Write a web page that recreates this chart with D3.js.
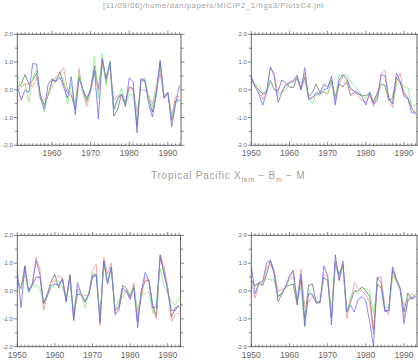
<!DOCTYPE html>
<html><head><meta charset="utf-8">
<script src="https://cdn.jsdelivr.net/npm/d3@7"></script>
<style>html,body{margin:0;padding:0;background:#fff}svg{display:block}</style>
</head><body><svg id="c" width="418" height="360"></svg>
<script>
// ---------- data ----------
const fileTitle = "[11/09/06]/home/dan/papers/MIC/P2_1/figs3/PlotsC4.jnl";
const yTicks = [-2, -1, 0, 1, 2];
const yTickLabels = ["-2.0", "-1.0", "0.0", "1.0", "2.0"];
const xTickYears = [1950, 1960, 1970, 1980, 1990];
const yearsTL = d3.range(1951, 1994); // 1951..1993
const yearsAll = d3.range(1950, 1994); // 1950..1993

// top-left (1951-1993)
const tlBlack = [0.1,0.2,0.55,0.2,0.35,0.6,-0.2,-0.55,-0.2,0.35,0.3,0.65,0.2,-0.1,-0.2,-0.7,0.5,0.0,-0.4,0.05,0.85,0.0,1.1,0.3,0.95,-0.95,-0.7,-0.15,-0.45,0.1,0.05,-1.3,0.3,0.35,-0.3,-0.8,-0.1,1.0,-0.3,-0.1,-1.1,-0.4,-0.35];
const tlRed   = [-0.05,0.1,0.2,0.2,0.1,0.45,-0.35,-0.35,-0.2,0.25,0.45,0.6,0.8,0.0,-0.1,-0.55,0.77,-0.1,-0.6,-0.1,0.6,0.0,0.9,0.5,0.8,-0.4,-0.2,-0.35,-0.5,0.1,0.0,-0.8,0.0,0.0,-0.2,-0.5,0.0,0.6,-0.3,-0.1,-0.9,-0.25,-0.25];
const tlGreen = [0.53,0.1,0.25,-0.45,0.45,0.7,-0.3,-0.8,-0.1,0.1,0.35,0.55,0.4,-0.5,0.2,-0.6,0.6,-0.1,-0.45,-0.05,1.2,-0.3,1.3,0.15,1.05,-0.75,-0.4,0.07,-0.55,-0.15,-0.2,-1.0,0.35,0.43,-0.3,-0.6,0.2,0.8,-0.15,-0.2,-0.95,-0.45,-0.4];
const tlBlue  = [0.15,-0.37,0.0,-0.1,0.95,0.92,-0.3,-0.7,0.2,0.4,0.3,0.45,0.1,-0.3,0.47,-0.9,0.4,0.0,-0.3,0.0,0.7,-1.05,1.13,0.4,1.0,-0.7,-0.3,-0.15,-0.6,0.43,0.3,-1.55,0.4,0.35,-0.5,-0.98,-0.2,1.07,-0.3,-0.1,-1.35,-0.5,0.17];

// top-right (1950-1993)
const trBlack = [0.4,0.15,0.0,-0.15,-0.1,0.35,0.0,-0.05,0.35,0.25,0.1,0.07,0.45,0.0,0.45,-0.25,-0.1,0.2,-0.1,0.2,0.1,0.35,-0.25,0.2,0.1,0.3,-0.2,-0.1,-0.15,-0.2,-0.2,-0.15,-0.45,-0.1,0.2,0.15,-0.4,-0.3,0.45,0.25,-0.1,-0.3,-0.65,-0.85];
const trRed   = [0.35,0.15,-0.05,-0.35,-0.1,0.8,0.6,-0.15,-0.05,0.2,0.3,0.35,0.45,0.05,0.6,-0.3,-0.25,-0.2,-0.15,-0.1,-0.15,0.25,-0.4,0.2,0.5,0.4,0.0,-0.05,-0.2,-0.4,-0.45,-0.2,-0.6,-0.2,0.55,0.7,-0.25,-0.65,0.3,0.6,-0.15,-0.3,-0.65,-0.85];
const trGreen = [0.25,0.2,0.15,-0.1,-0.05,0.35,0.05,-0.25,-0.1,0.0,0.25,0.3,0.4,0.25,0.3,-0.3,-0.5,-0.15,-0.2,-0.05,-0.15,0.3,-0.3,0.55,0.5,0.55,0.3,0.15,0.0,-0.2,-0.3,-0.05,-0.4,-0.3,0.2,0.2,-0.35,-0.5,0.15,0.3,0.1,0.1,-0.6,-0.55];
const trBlue  = [0.5,0.1,-0.15,-0.55,-0.1,0.83,0.5,-0.45,-0.1,0.15,0.25,0.3,0.53,0.0,0.8,-0.35,-0.3,-0.1,-0.15,0.0,0.05,0.5,-0.55,0.35,0.55,0.4,0.05,-0.05,-0.1,-0.25,-0.55,-0.1,-0.5,-0.4,0.55,0.5,-0.3,-0.5,0.6,0.3,-0.25,-0.3,-0.82,-0.85];

// bottom-left (1950-1993)
const blBlack = [0.3,0.1,0.9,-0.05,0.2,0.5,0.5,-0.45,-0.1,0.35,0.6,0.1,0.47,-0.35,0.58,-0.9,-0.1,-0.15,-0.4,-0.1,0.5,0.55,-1.0,1.1,0.3,0.85,-0.7,-0.55,0.2,0.1,-0.2,0.2,-1.1,0.0,0.35,0.4,-0.5,-0.9,1.3,0.6,0.1,-0.95,-0.6,-0.55];
const blRed   = [0.4,0.1,0.75,0.0,0.25,1.22,0.8,-0.7,-0.15,0.35,0.35,0.55,0.47,-0.25,0.5,-1.08,0.1,-0.15,-0.15,-0.15,0.75,0.96,-1.26,1.2,0.6,1.0,-0.8,-0.6,-0.05,0.0,-0.3,0.28,-0.9,-0.2,0.5,0.35,-0.6,-1.0,1.25,0.93,0.15,-1.1,-0.85,-0.8];
const blGreen = [0.35,0.05,0.6,-0.05,0.2,0.2,0.1,-0.4,-0.2,0.1,0.2,0.35,0.15,-0.3,0.35,-0.7,0.05,-0.15,-0.6,-0.1,0.65,0.5,-0.9,1.0,0.35,0.85,-0.65,-0.3,-0.25,0.0,-0.1,0.15,-0.7,-0.1,-0.1,0.0,-0.8,-0.4,0.8,0.2,-0.1,-0.4,-0.5,-0.25];
const blBlue  = [0.75,-0.6,0.9,0.0,0.25,1.1,0.6,-0.45,-0.15,0.2,0.25,0.2,0.4,-0.4,0.58,-1.05,0.3,-0.1,-0.35,-0.15,0.55,0.6,-1.15,1.08,0.25,0.85,-0.85,-0.7,0.1,0.0,-0.3,0.1,-1.32,0.0,0.67,0.35,-0.6,-0.6,1.27,0.7,0.0,-0.7,-0.7,-0.5];

// bottom-right (1950-1993)
const brBlack = [0.4,0.2,0.3,0.2,0.6,1.1,0.7,-0.2,-0.1,0.15,0.2,0.25,-0.5,0.45,-1.0,0.2,0.25,-0.4,-0.4,0.5,0.35,-0.95,1.0,0.6,0.95,-0.75,-0.4,0.0,0.0,0.15,0.0,-0.2,-1.4,0.25,0.1,-0.7,-0.7,0.75,0.4,0.05,-0.75,-0.07,-0.3,-0.2];
const brRed   = [0.35,-0.26,0.25,0.2,0.85,0.95,0.7,0.0,0.05,0.15,0.45,0.7,-0.4,0.78,-0.6,-0.4,-0.2,-0.35,-0.45,0.6,0.5,-0.8,1.1,0.35,0.95,-1.0,-0.35,0.3,0.1,0.0,-0.15,-0.4,-1.58,0.5,0.5,-0.55,-0.87,0.6,0.35,0.1,-0.95,-0.4,-0.2,-0.15];
const brGreen = [0.3,0.15,0.25,0.3,0.45,0.4,0.4,-0.15,-0.05,0.1,0.4,0.5,-0.35,0.15,-1.3,0.05,-0.15,-0.4,-0.35,0.45,0.4,-0.75,0.9,0.5,0.75,-0.8,-0.2,0.0,-0.1,0.05,0.1,0.0,-0.8,0.2,0.15,-0.6,-0.6,0.55,0.35,0.05,-0.5,-0.25,-0.1,-0.15];
const brBlue  = [0.87,-0.1,0.3,0.35,1.0,1.1,0.6,-0.38,-0.1,0.15,0.55,0.75,-0.4,0.6,-1.25,-0.1,-0.12,-0.45,-0.4,0.9,0.55,-1.22,1.3,0.4,1.08,-0.75,-0.5,-0.75,-0.3,-0.2,-0.35,-1.1,-2.0,0.5,0.3,-0.75,-0.7,0.87,0.45,0.1,-1.17,-0.3,-0.25,-0.2];

// ---------- drawing ----------
const seriesColors = ["#666666", "#f58c8c", "#82e882", "#6666f2"];
const svg = d3.select("#c");
const font = "Liberation Sans, Arial, sans-serif";

const panels = [
  {x0:17.3, x1:181, y0:34.3, y1:145.3, dom:[1951,1993.4], years:yearsTL, series:[tlBlack,tlRed,tlGreen,tlBlue], labYears:[1960,1970,1980,1990]},
  {x0:251.3, x1:417, y0:34.3, y1:145.3, dom:[1950,1993.4], years:yearsAll, series:[trBlack,trRed,trGreen,trBlue], labYears:xTickYears},
  {x0:17.3, x1:180.5, y0:235.3, y1:346.7, dom:[1950,1993.4], years:yearsAll, series:[blBlack,blRed,blGreen,blBlue], labYears:xTickYears},
  {x0:251.3, x1:417, y0:235.3, y1:346.7, dom:[1950,1993.4], years:yearsAll, series:[brBlack,brRed,brGreen,brBlue], labYears:xTickYears}
];

panels.forEach(p => {
  const x = d3.scaleLinear().domain(p.dom).range([p.x0, p.x1]);
  const y = d3.scaleLinear().domain([-2, 2]).range([p.y1, p.y0]);
  const g = svg.append("g");
  const axisColor = "#555";

  // data lines
  const line = d3.line().x((d,i) => x(p.years[i])).y(d => y(d));
  p.series.forEach((s, k) => {
    g.append("path").datum(s).attr("d", line)
      .attr("fill", "none").attr("stroke", seriesColors[k])
      .attr("stroke-width", 0.75).attr("stroke-linejoin", "round");
  });

  // frame
  g.append("rect").attr("x", p.x0).attr("y", p.y0)
    .attr("width", p.x1 - p.x0).attr("height", p.y1 - p.y0)
    .attr("fill", "none").attr("stroke", axisColor).attr("stroke-width", 0.9);

  // year ticks (top outward, bottom inward)
  const yrs = d3.range(Math.ceil(p.dom[0]), Math.floor(p.dom[1]) + 1);
  yrs.forEach(yr => {
    const major = yr % 10 === 0;
    const xx = x(yr);
    g.append("line").attr("x1", xx).attr("x2", xx)
      .attr("y1", p.y0).attr("y2", p.y0 - (major ? 3.5 : 2))
      .attr("stroke", axisColor).attr("stroke-width", 0.7);
    g.append("line").attr("x1", xx).attr("x2", xx)
      .attr("y1", p.y1).attr("y2", p.y1 - (major ? 3.5 : 2))
      .attr("stroke", axisColor).attr("stroke-width", 0.7);
  });

  // y ticks left & right outward
  d3.range(-2, 2.01, 0.5).forEach(v => {
    const major = Math.abs(v - Math.round(v)) < 1e-6;
    const yy = y(v);
    g.append("line").attr("x1", p.x0).attr("x2", p.x0 - (major ? 3.5 : 2.5))
      .attr("y1", yy).attr("y2", yy).attr("stroke", axisColor).attr("stroke-width", 0.7);
    g.append("line").attr("x1", p.x1).attr("x2", p.x1 + (major ? 3.5 : 2.5))
      .attr("y1", yy).attr("y2", yy).attr("stroke", axisColor).attr("stroke-width", 0.7);
  });

  // y labels
  yTicks.forEach((v, i) => {
    g.append("text").attr("x", p.x0 - 4.5).attr("y", y(v) + 2)
      .attr("text-anchor", "end").attr("font-family", font)
      .attr("font-size", 6).attr("fill", "#666").text(yTickLabels[i]);
  });

  // x labels
  p.labYears.forEach(yr => {
    g.append("text").attr("x", x(yr)).attr("y", p.y1 + 11)
      .attr("text-anchor", "middle").attr("font-family", font)
      .attr("font-size", 8.5).attr("fill", "#666").text(yr);
  });
});

// titles
svg.append("text").attr("x", 103).attr("y", 8)
  .attr("font-family", font).attr("font-size", 7.5).attr("fill", "#a0a0a0")
  .attr("textLength", 220).attr("lengthAdjust", "spacing").text(fileTitle);

const t = svg.append("text").attr("x", 151).attr("y", 179)
  .attr("font-family", font).attr("font-size", 10).attr("fill", "#a0a0a0")
  .attr("letter-spacing", 0.75);
t.append("tspan").text("Tropical Pacific X");
t.append("tspan").attr("font-size", 7).attr("dy", 2.5).text("tkm");
t.append("tspan").attr("dy", -2.5).text(" \u2212 B");
t.append("tspan").attr("font-size", 7).attr("dy", 2.5).text("m");
t.append("tspan").attr("dy", -2.5).text(" \u2212 M");
</script></body></html>
